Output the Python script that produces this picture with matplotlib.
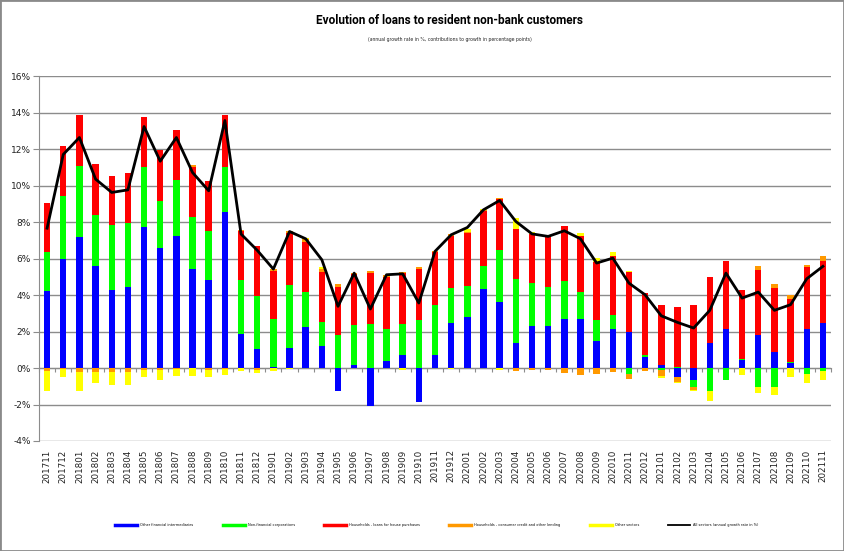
import matplotlib
matplotlib.use("Agg")
import matplotlib.pyplot as plt
import numpy as np
from matplotlib.lines import Line2D
from matplotlib.patches import Rectangle
from matplotlib.ticker import FuncFormatter, MultipleLocator

months = ["201711", "201712",
          "201801", "201802", "201803", "201804", "201805", "201806",
          "201807", "201808", "201809", "201810", "201811", "201812",
          "201901", "201902", "201903", "201904", "201905", "201906",
          "201907", "201908", "201909", "201910", "201911", "201912",
          "202001", "202002", "202003", "202004", "202005", "202006",
          "202007", "202008", "202009", "202010", "202011", "202012",
          "202101", "202102", "202103", "202104", "202105", "202106",
          "202107", "202108", "202109", "202110", "202111"]

other_fin = [4.20, 5.95,
             7.17, 5.57, 4.29, 4.43, 7.74, 6.55, 7.21, 5.44, 4.82, 8.56, 1.88, 1.02,
             0.07, 1.08, 2.23, 1.19, -1.24, 0.18, -2.10, 0.36, 0.69, -1.88, 0.73, 2.48,
             2.77, 4.31, 3.63, 1.35, 2.30, 2.30, 2.68, 2.68, 1.46, 2.15, 1.97, 0.58,
             0.15, -0.49, -0.64, 1.35, 2.12, 0.42, 1.79, 0.89, 0.26, 2.12, 2.48]

non_fin = [2.17, 3.45,
           3.92, 2.83, 3.52, 3.54, 3.30, 2.61, 3.07, 2.86, 2.68, 2.48, 2.92, 2.94,
           2.61, 3.49, 1.92, 1.31, 1.79, 2.19, 2.43, 1.79, 1.73, 2.63, 2.70, 1.93,
           1.75, 1.30, 2.83, 3.54, 2.37, 2.12, 2.08, 1.51, 1.17, 0.77, -0.31, 0.15,
           -0.09, 0.07, -0.40, -1.28, -0.64, 0.07, -1.04, -1.06, 0.07, -0.31, -0.18]

hh_house = [2.68, 2.77,
            2.77, 2.79, 2.72, 2.70, 2.74, 2.79, 2.76, 2.74, 2.74, 2.83, 2.68, 2.74,
            2.66, 2.83, 2.74, 2.74, 2.65, 2.77, 2.76, 2.86, 2.77, 2.79, 2.90, 2.85,
            2.90, 2.97, 2.79, 2.74, 2.68, 2.79, 3.03, 3.07, 3.18, 3.19, 3.27, 3.36,
            3.28, 3.25, 3.43, 3.65, 3.72, 3.76, 3.60, 3.49, 3.45, 3.39, 3.39]

hh_consumer = [-0.18, -0.05,
               -0.24, -0.24, -0.24, -0.24, -0.13, -0.13, -0.03, 0.07, -0.13, -0.03, 0.07, -0.09,
               0.07, 0.09, 0.20, 0.18, 0.18, 0.09, 0.15, 0.07, 0.09, 0.09, 0.09, 0.09,
               0.03, 0.09, 0.05, -0.15, -0.13, -0.09, -0.27, -0.36, -0.31, -0.24, -0.27, -0.15,
               -0.33, -0.27, -0.15, 0.00, 0.05, 0.05, 0.18, 0.24, 0.20, 0.15, 0.27]

other_sectors = [-1.09, -0.46,
                 -1.00, -0.60, -0.67, -0.67, -0.38, -0.55, -0.40, -0.42, -0.38, -0.35, -0.18, -0.20,
                 -0.15, -0.05, 0.05, 0.09, 0.00, 0.00, 0.00, 0.00, -0.09, 0.00, 0.00, -0.05,
                 0.15, 0.05, -0.09, 0.58, 0.09, 0.00, 0.00, 0.11, 0.22, 0.22, 0.07, -0.04,
                 -0.13, -0.05, -0.07, -0.53, 0.00, -0.38, -0.33, -0.40, -0.51, -0.51, -0.46]

all_sectors = [7.66, 11.70,
               12.63, 10.35, 9.62, 9.76, 13.23, 11.33, 12.63, 10.71, 9.71, 13.56, 7.34, 6.45,
               5.42, 7.48, 7.08, 5.93, 3.38, 5.20, 3.23, 5.11, 5.16, 3.56, 6.39, 7.30,
               7.70, 8.67, 9.18, 8.03, 7.35, 7.21, 7.52, 7.08, 5.75, 6.02, 4.65, 4.01,
               2.86, 2.50, 2.19, 3.16, 5.20, 3.83, 4.16, 3.16, 3.47, 4.89, 5.57]

series_names = ["Other financial intermediaries",
                "Non-financial corporations",
                "Households - loans for house purchases",
                "Households - consumer credit and other lending",
                "Other sectors"]
line_name = "All sectors (annual growth rate in %)"
colors = ["#0000FF", "#00FF00", "#FF0000", "#FF9900", "#FFFF00"]

fig = plt.figure(figsize=(8.44, 5.51), dpi=100)
ax = fig.add_axes([39 / 844, 110 / 551, 792 / 844, 365 / 551])

x = np.arange(len(months))
pos_base = np.zeros(len(months))
neg_base = np.zeros(len(months))
for vals, col in zip([other_fin, non_fin, hh_house, hh_consumer, other_sectors], colors):
    v = np.array(vals, dtype=float)
    bottoms = np.where(v >= 0, pos_base, neg_base)
    ax.bar(x, v, width=0.4, bottom=bottoms, color=col, linewidth=0, zorder=3)
    pos_base = pos_base + np.where(v > 0, v, 0)
    neg_base = neg_base + np.where(v < 0, v, 0)

ax.plot(x, all_sectors, color="black", lw=2.0, zorder=4, solid_joinstyle="round")

grid_c = "#8c8c8c"
ax.set_xlim(-0.5, len(months) - 0.5)
ax.set_ylim(-4, 16)
ax.yaxis.set_major_locator(MultipleLocator(2))
ax.yaxis.set_major_formatter(FuncFormatter(lambda v, p: f"{v:.0f}%"))
ax.grid(axis="y", color=grid_c, lw=1.0, zorder=0)
ax.set_axisbelow(True)

for s in ["top", "right", "bottom"]:
    ax.spines[s].set_visible(False)
ax.spines["left"].set_color(grid_c)
ax.tick_params(axis="y", length=4, color=grid_c, labelsize=6.5, pad=2, labelcolor="#222222")

ax.set_xticks(x)
ax.set_xticklabels(months, rotation=90, fontsize=6.3, color="#222222")
ax.tick_params(axis="x", length=0, pad=6)

# zero category axis with tick marks between categories
sec = ax.secondary_xaxis(0.2)
sec.set_xticks(np.arange(-0.5, len(months), 1.0))
sec.set_xticklabels([])
sec.tick_params(axis="x", length=3, color=grid_c, direction="out")
sec.spines["bottom"].set_color(grid_c)

fig.text(449 / 844, 1 - 21 / 551, "Evolution of loans to resident non-bank customers",
         ha="center", va="center", fontsize=8.5, fontweight="bold",
         family=["Roboto", "DejaVu Sans"], fontstretch="condensed")
fig.text(450 / 844, 1 - 40 / 551,
         "(annual growth rate in %, contributions to growth in percentage points)",
         ha="center", va="center", fontsize=3.3, color="#222222")

handles = [Line2D([0], [0], color=c, lw=2.5) for c in colors]
handles.append(Line2D([0], [0], color="black", lw=1.3))
labels = series_names + [line_name]
fig.legend(handles, labels, loc="center", bbox_to_anchor=(437 / 844, 1 - 525 / 551),
           ncol=6, frameon=False, fontsize=2.5, handlelength=6.3, handletextpad=0.9,
           columnspacing=8.4)

fig.patches.append(Rectangle((0, 0), 1, 1, transform=fig.transFigure, fill=False,
                             edgecolor="#8a8a8a", lw=2.0))

fig.savefig("out.png", dpi=100)
